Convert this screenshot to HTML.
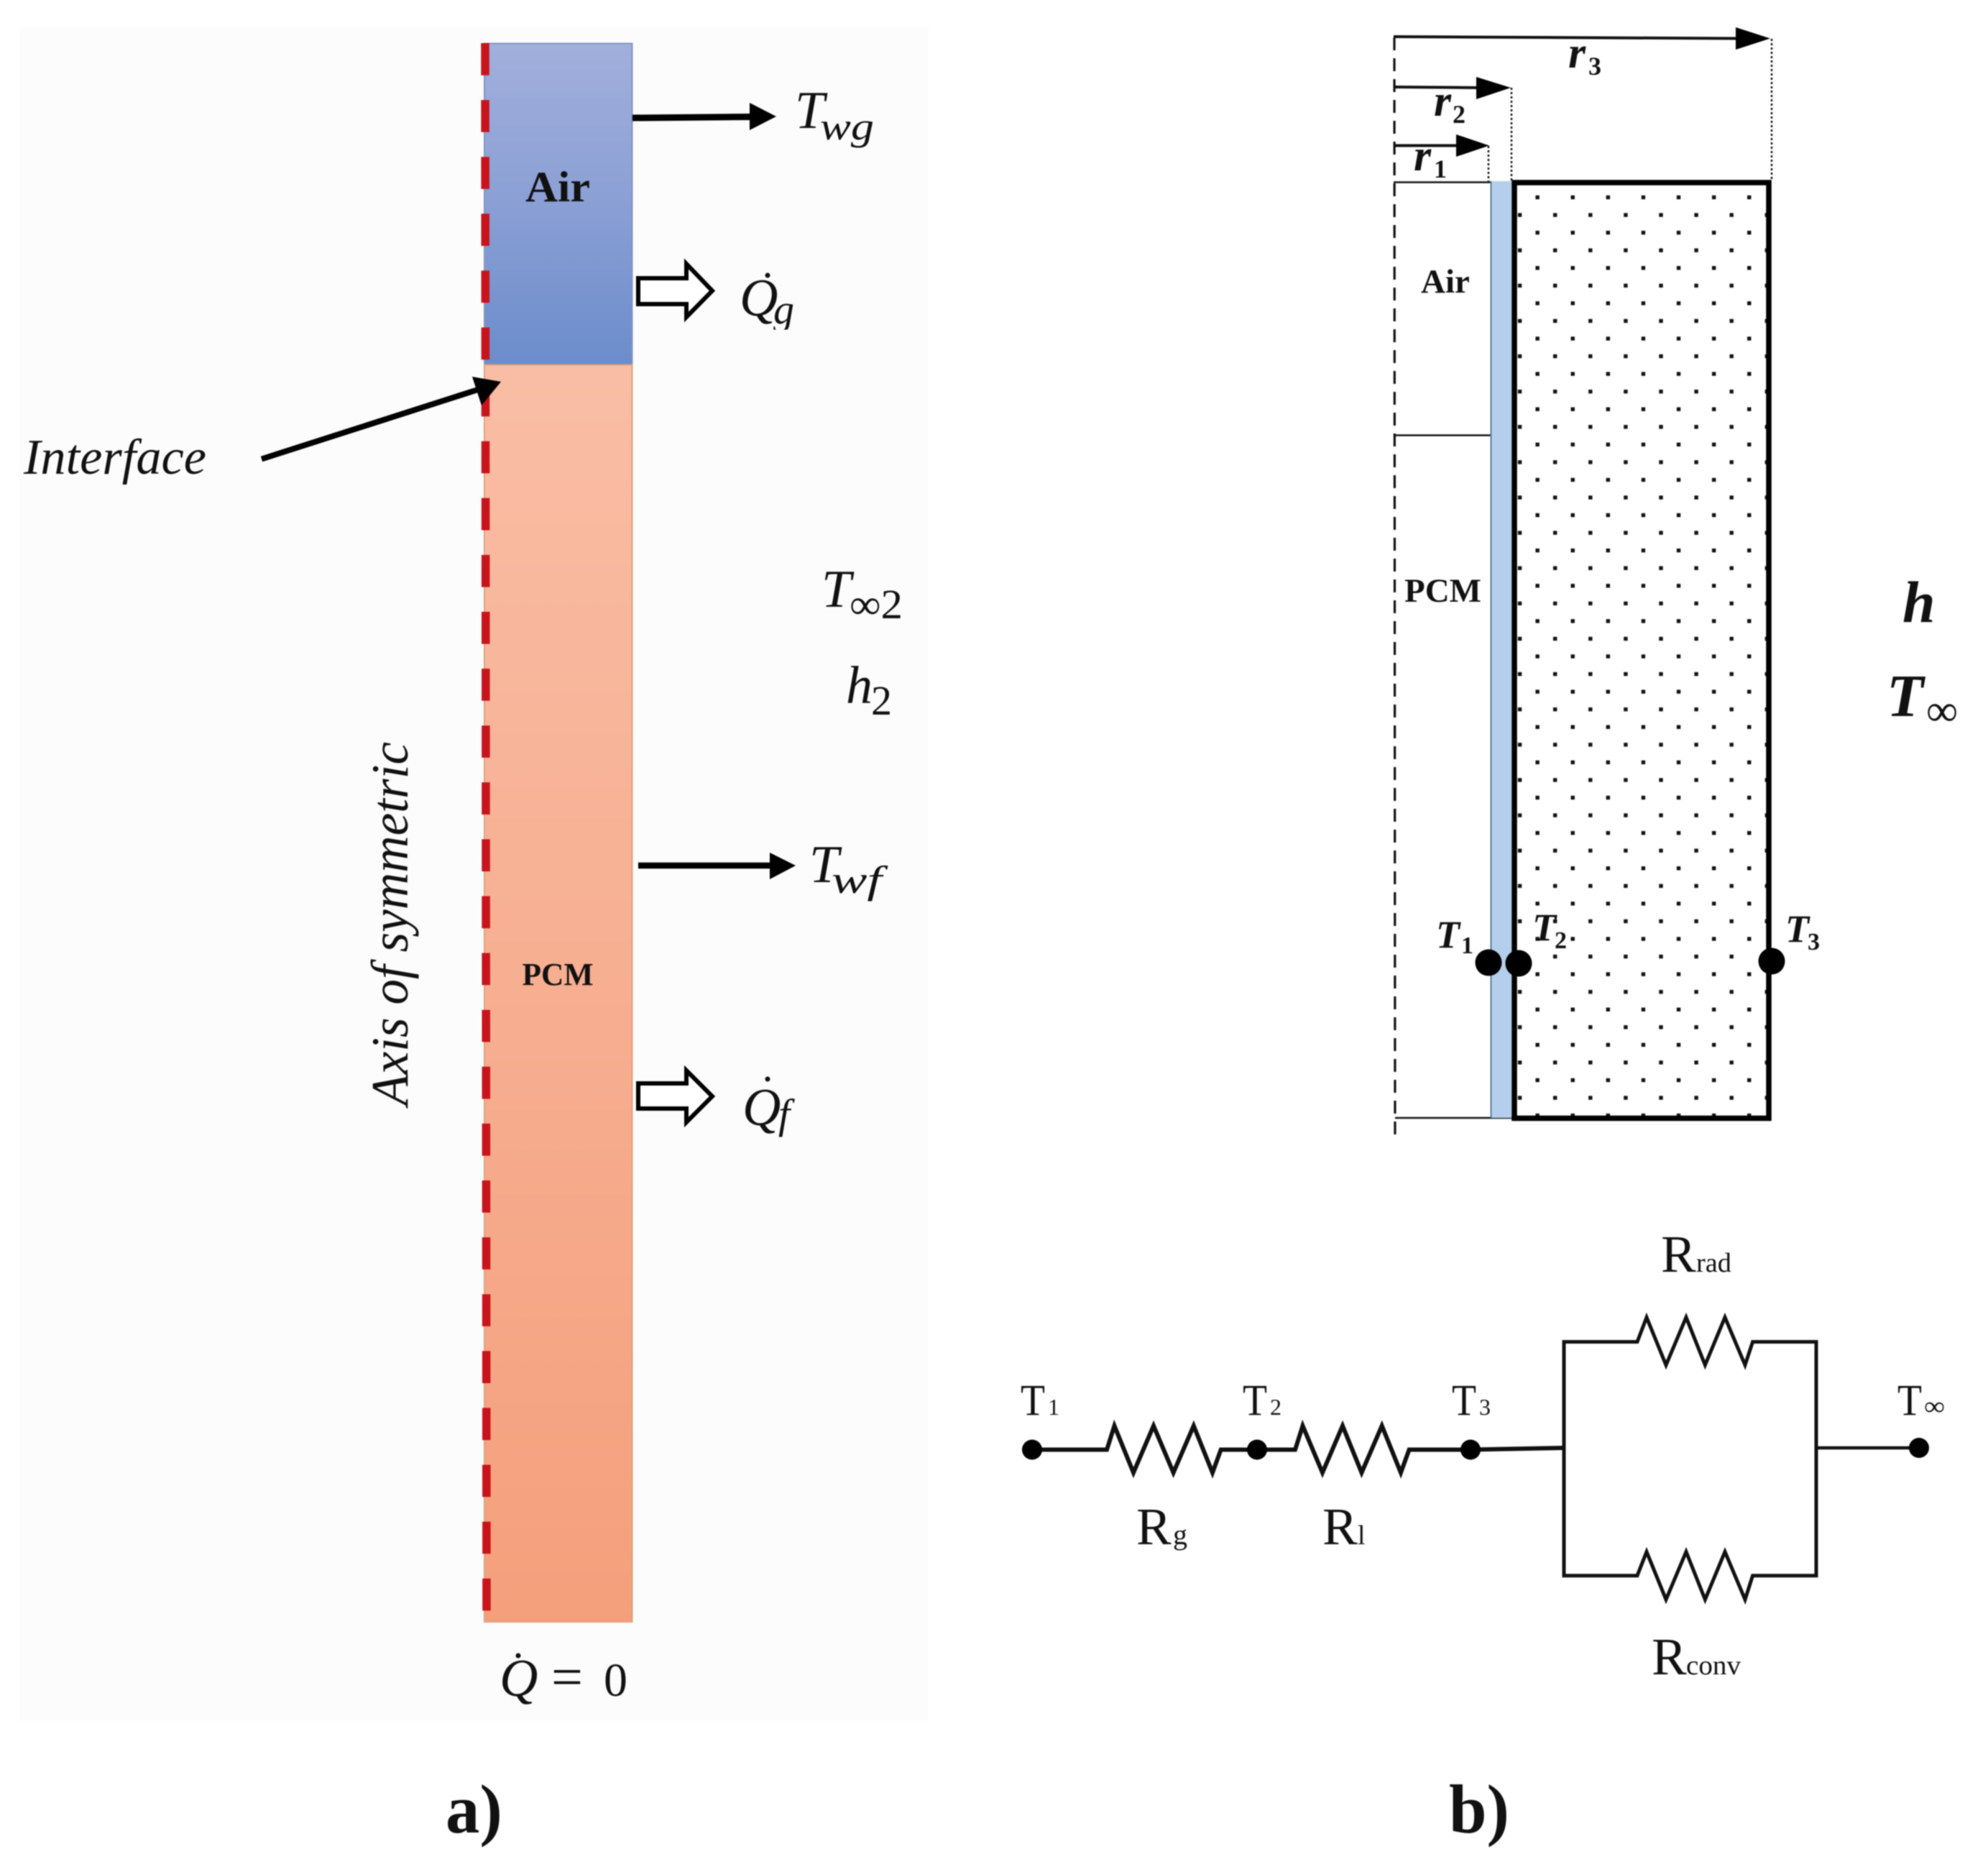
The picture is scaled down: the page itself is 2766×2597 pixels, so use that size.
<!DOCTYPE html>
<html>
<head>
<meta charset="utf-8">
<style>
html,body{margin:0;padding:0;background:#fff;}
svg{display:block;filter:blur(0.8px);}
text{font-family:"Liberation Serif",serif;fill:#111;}
.i{font-style:italic;}
.b{font-weight:bold;}
</style>
</head>
<body>
<svg width="2766" height="2597" viewBox="0 0 2766 2597" xmlns="http://www.w3.org/2000/svg">
<defs>
<linearGradient id="air" x1="0" y1="0" x2="0" y2="1"><stop offset="0" stop-color="#a1afdc"/><stop offset="0.5" stop-color="#8a9fd4"/><stop offset="1" stop-color="#6b8ccb"/></linearGradient>
<linearGradient id="pcm" x1="0" y1="0" x2="0" y2="1"><stop offset="0" stop-color="#f9bda5"/><stop offset="1" stop-color="#f49f7c"/></linearGradient>
<pattern id="dots" patternUnits="userSpaceOnUse" x="2109.6" y="244.94" width="49.1" height="49.12">
<rect x="2.3" y="2.3" width="5.4" height="5.4" fill="#111"/>
<rect x="26.85" y="26.86" width="5.4" height="5.4" fill="#111"/>
</pattern>
<clipPath id="gclip"><rect x="1060" y="400" width="60" height="58.5"/></clipPath>
</defs>
<rect width="2766" height="2597" fill="#fff"/>

<!-- Panel a -->
<rect x="27" y="37" width="1265" height="2356" fill="#fcfcfc"/>
<rect x="674" y="60.5" width="205.5" height="447" fill="url(#air)" stroke="#7f94c6" stroke-width="2"/>
<rect x="674" y="507.5" width="205.5" height="1748.5" fill="url(#pcm)" stroke="#dda27c" stroke-width="2"/>
<line x1="675" y1="60" x2="677" y2="2241" stroke="#c8141c" stroke-width="11.5" stroke-dasharray="44.7 34.4"/>

<!-- Twg arrow -->
<line x1="880" y1="164" x2="1048" y2="162.5" stroke="#000" stroke-width="9"/>
<polygon points="1043,143 1080,162 1043,181" fill="#000"/>
<!-- Twf arrow -->
<line x1="888" y1="1204" x2="1075" y2="1204" stroke="#000" stroke-width="8.5"/>
<polygon points="1071,1186 1107,1204 1071,1223" fill="#000"/>
<!-- Interface arrow -->
<line x1="364" y1="638.5" x2="668" y2="541" stroke="#000" stroke-width="8"/>
<polygon points="657,524 697,531 670,564" fill="#000"/>
<!-- hollow arrows -->
<polygon points="888,387 955,387 955,367 991,404.5 955,441 955,423 888,423" fill="#fff" stroke="#000" stroke-width="6"/>
<polygon points="888,1507 955,1507 955,1489 991,1525 955,1561 955,1542 888,1542" fill="#fff" stroke="#000" stroke-width="6"/>

<text x="776" y="280" class="b" font-size="60" text-anchor="middle" textLength="90" lengthAdjust="spacingAndGlyphs">Air</text>
<text x="776" y="1370" class="b" font-size="44" text-anchor="middle" textLength="99" lengthAdjust="spacingAndGlyphs">PCM</text>
<text x="33" y="659" class="i" font-size="70" textLength="254" lengthAdjust="spacingAndGlyphs">Interface</text>
<text transform="translate(567 1538) rotate(-90)" class="i" font-size="73" textLength="506" lengthAdjust="spacingAndGlyphs">Axis of symmetric</text>

<text x="1106" y="178" class="i" font-size="74">T</text>
<text x="1141" y="194" class="i" font-size="54" textLength="75" lengthAdjust="spacingAndGlyphs">wg</text>
<text x="1029" y="439" class="i" font-size="74">Q</text>
<circle cx="1068" cy="383" r="3.5" fill="#111"/>
<text x="1076" y="450" class="i" font-size="58" clip-path="url(#gclip)">g</text>
<text x="1143" y="844" class="i" font-size="74">T</text>
<text x="1182" y="860" font-size="58" textLength="74" lengthAdjust="spacingAndGlyphs">∞2</text>
<text x="1177" y="978" class="i" font-size="74">h</text>
<text x="1212" y="994" font-size="58">2</text>
<text x="1126" y="1227" class="i" font-size="74">T</text>
<text x="1157" y="1242" class="i" font-size="54" textLength="70" lengthAdjust="spacingAndGlyphs">wf</text>
<text x="1033" y="1565" class="i" font-size="74">Q</text>
<circle cx="1068" cy="1501" r="3.5" fill="#111"/>
<text x="1083" y="1569" class="i" font-size="58">f</text>
<text x="695" y="2359" class="i" font-size="74">Q</text>
<circle cx="721" cy="2303" r="3.5" fill="#111"/>
<text x="767" y="2359" font-size="78">=</text>
<text x="840" y="2359" font-size="66">0</text>
<text x="620" y="2549" class="b" font-size="96" textLength="79" lengthAdjust="spacingAndGlyphs">a)</text>

<!-- Panel b top -->
<line x1="1940" y1="52" x2="1941" y2="1584" stroke="#111" stroke-width="3.2" stroke-dasharray="18 11"/>
<line x1="1939" y1="51" x2="2420" y2="53.5" stroke="#111" stroke-width="4"/>
<polygon points="2415,38 2463,53.5 2415,69" fill="#000"/>
<line x1="1939" y1="121" x2="2058" y2="122" stroke="#111" stroke-width="4"/>
<polygon points="2054,107 2102,122 2054,138" fill="#000"/>
<line x1="1939" y1="202.5" x2="2030" y2="202.5" stroke="#111" stroke-width="4"/>
<polygon points="2026,187 2072,202.5 2026,218" fill="#000"/>
<line x1="2465" y1="54" x2="2465" y2="252" stroke="#111" stroke-width="2.5" stroke-dasharray="3 3"/>
<line x1="2103" y1="122" x2="2103" y2="252" stroke="#111" stroke-width="2.5" stroke-dasharray="3 3"/>
<line x1="2071" y1="203" x2="2071" y2="252" stroke="#111" stroke-width="2.5" stroke-dasharray="3 3"/>
<line x1="1939" y1="253.5" x2="2075" y2="253.5" stroke="#111" stroke-width="2.5"/>
<line x1="1939" y1="605.5" x2="2075" y2="605.5" stroke="#111" stroke-width="2.5"/>
<line x1="1941" y1="1555" x2="2104" y2="1555" stroke="#111" stroke-width="2.5"/>
<rect x="2074" y="252" width="29" height="1303" fill="#b4cfeb"/>
<line x1="2074.5" y1="252" x2="2074.5" y2="1555" stroke="#5a7ba0" stroke-width="2"/>
<rect x="2104" y="254" width="356" height="1302" fill="url(#dots)"/>
<rect x="2107" y="254" width="354" height="1301.5" fill="none" stroke="#000" stroke-width="7.5"/>

<text x="2182" y="94" class="i b" font-size="62">r</text>
<text x="2210" y="104" class="b" font-size="36">3</text>
<text x="1995" y="161" class="i b" font-size="62">r</text>
<text x="2021" y="171" class="b" font-size="36">2</text>
<text x="1967" y="237" class="i b" font-size="62">r</text>
<text x="1995" y="247" class="b" font-size="36">1</text>
<text x="1977" y="407" class="b" font-size="47">Air</text>
<text x="1954" y="837" class="b" font-size="47">PCM</text>
<text x="2647" y="865" class="i b" font-size="82">h</text>
<text x="2625" y="996" class="i b" font-size="84">T</text>
<text x="2680" y="1009" font-size="62">∞</text>
<text x="1998" y="1318" class="i b" font-size="54">T</text>
<text x="2033" y="1326" class="b" font-size="34">1</text>
<text x="2132" y="1308" class="i b" font-size="54">T</text>
<text x="2163" y="1319" class="b" font-size="34">2</text>
<circle cx="2188" cy="1306" r="2.5" fill="#111"/>
<text x="2484" y="1310" class="i b" font-size="54">T</text>
<text x="2515" y="1321" class="b" font-size="34">3</text>
<circle cx="2071" cy="1339" r="18.5" fill="#000"/>
<circle cx="2113" cy="1340" r="18.5" fill="#000"/>
<circle cx="2465" cy="1337" r="18.5" fill="#000"/>

<!-- Network -->
<g fill="none" stroke="#111" stroke-width="6" stroke-linejoin="miter">
<polyline points="1436,2016.5 1540,2016.5 1550.5,1983.3 1577,2048.5 1605,1983.3 1632.6,2048.5 1660.8,1983.3 1687,2048.5 1698.7,2016.5 1749,2016.5"/>
<polyline points="1749,2016.5 1802,2016.5 1812.5,1983.3 1840,2048.5 1868,1983.3 1894.5,2048.5 1922.7,1983.3 1949,2048.5 1960.6,2016.5 2046,2016.5 2176,2014"/>
<polyline stroke-width="5" points="2176,2014 2176,1866.5 2278,1866.5 2291,1832.4 2318,1898.8 2346,1832.4 2372.4,1898.8 2400,1832.4 2428,1898.8 2438.6,1866.5 2527,1866.5 2527,2191.7 2438.6,2191.7 2428,2225 2400,2158.5 2372.4,2225 2346,2158.5 2318,2225 2291,2158.5 2278,2191.7 2176,2191.7 2176,2014"/>
<line stroke-width="4.5" x1="2527" y1="2014" x2="2670" y2="2014"/>
</g>
<circle cx="1436" cy="2016.5" r="14" fill="#000"/>
<circle cx="1749" cy="2016.5" r="14" fill="#000"/>
<circle cx="2046" cy="2016.5" r="14" fill="#000"/>
<circle cx="2670" cy="2014" r="14" fill="#000"/>

<text x="1420" y="1968" font-size="61" textLength="34" lengthAdjust="spacingAndGlyphs">T</text>
<text x="1458" y="1968" font-size="32">1</text>
<text x="1729" y="1968" font-size="61" textLength="34" lengthAdjust="spacingAndGlyphs">T</text>
<text x="1767" y="1968" font-size="32" textLength="16" lengthAdjust="spacingAndGlyphs">2</text>
<text x="2020" y="1968" font-size="61" textLength="34" lengthAdjust="spacingAndGlyphs">T</text>
<text x="2058" y="1968" font-size="32" textLength="16" lengthAdjust="spacingAndGlyphs">3</text>
<text x="2640" y="1968" font-size="61" textLength="34" lengthAdjust="spacingAndGlyphs">T</text>
<text x="2677" y="1968" font-size="36" textLength="29" lengthAdjust="spacingAndGlyphs">∞</text>
<text x="1581" y="2148" font-size="73">R</text>
<text x="1632" y="2148" font-size="40">g</text>
<text x="1840" y="2148" font-size="73">R</text>
<text x="1889" y="2148" font-size="38">l</text>
<text x="2311" y="1769" font-size="73">R</text>
<text x="2360" y="1769" font-size="38" textLength="49" lengthAdjust="spacingAndGlyphs">rad</text>
<text x="2298" y="2329" font-size="73">R</text>
<text x="2346" y="2329" font-size="38" textLength="76" lengthAdjust="spacingAndGlyphs">conv</text>
<text x="2016" y="2549" class="b" font-size="96" textLength="84" lengthAdjust="spacingAndGlyphs">b)</text>
</svg>
</body>
</html>
